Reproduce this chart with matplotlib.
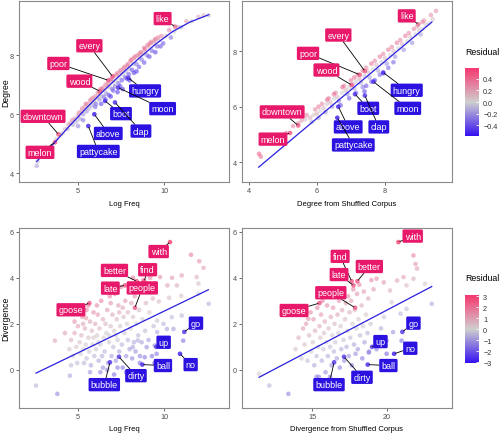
import numpy as np
import matplotlib
matplotlib.use('Agg')
import matplotlib.pyplot as plt
from matplotlib.colors import LinearSegmentedColormap, Normalize
from matplotlib.cm import ScalarMappable

plt.rcParams['font.family'] = ['Liberation Sans', 'DejaVu Sans']

# ---- top row: degree ----
# unlabelled points (log freq, degree, residual)
tl_pts = np.array([
    (2.6, 4.25, -0.15), (2.65, 4.4, -0.05), (3.75, 5.15, 0.1), (3.95, 5.3, 0.15), (4.1, 5.35, 0.05),
    (4.25, 5.5, 0.1), (4.4, 5.5, -0.1), (4.55, 5.7, 0.15), (4.7, 5.65, -0.15), (4.8, 5.85, 0.2),
    (4.9, 5.75, -0.1), (5.0, 5.95, 0.2), (5.1, 5.85, -0.15), (5.2, 6.1, 0.2), (5.3, 6.0, -0.2),
    (5.4, 6.25, 0.2), (5.5, 6.1, -0.2), (5.55, 6.35, 0.25), (5.65, 6.2, -0.15), (5.7, 6.45, 0.25),
    (5.8, 6.3, -0.15), (5.85, 6.55, 0.3), (5.95, 6.4, -0.1), (6.0, 6.6, 0.3), (6.05, 6.35, -0.3),
    (6.1, 6.55, 0.05), (6.2, 6.75, 0.3), (6.25, 6.5, -0.2), (6.3, 6.85, 0.35), (6.35, 6.6, -0.05),
    (6.45, 6.9, 0.3), (6.5, 6.6, -0.3), (6.55, 6.8, 0.0), (6.6, 7.0, 0.3), (6.65, 6.7, -0.2),
    (6.75, 7.05, 0.3), (6.8, 6.65, -0.4), (6.85, 6.9, -0.05), (6.9, 7.15, 0.35), (7.0, 6.85, -0.3),
    (7.05, 7.1, 0.05), (7.1, 7.3, 0.35), (7.15, 6.95, -0.3), (7.2, 7.15, 0.0), (7.3, 7.4, 0.3),
    (7.35, 7.05, -0.35), (7.4, 7.25, -0.05), (7.5, 7.5, 0.3), (7.55, 7.15, -0.4), (7.6, 7.35, -0.05),
    (7.7, 7.6, 0.35), (7.75, 7.25, -0.4), (7.8, 7.45, -0.1), (7.9, 7.7, 0.35), (7.95, 7.35, -0.4),
    (8.0, 7.55, -0.1), (8.1, 7.85, 0.4), (8.15, 7.5, -0.4), (8.2, 7.7, -0.05), (8.3, 7.95, 0.35),
    (8.4, 7.7, -0.3), (8.5, 7.95, 0.1), (8.6, 8.05, 0.3), (8.7, 7.85, -0.3), (8.8, 8.1, 0.15),
    (8.9, 8.2, 0.35), (9.0, 8.0, -0.3), (9.1, 8.3, 0.15), (9.2, 8.4, 0.35), (9.3, 8.15, -0.35),
    (9.4, 8.4, 0.1), (9.5, 8.55, 0.35), (9.6, 8.3, -0.35), (9.7, 8.5, 0.05), (9.85, 8.65, 0.3),
    (9.95, 8.4, -0.4), (10.1, 8.65, 0.05), (10.3, 8.85, 0.3), (10.4, 8.6, -0.3), (10.6, 8.8, 0.0),
    (10.8, 8.95, 0.2), (11.0, 8.95, -0.1), (11.3, 9.15, 0.2), (11.6, 9.15, 0.0), (12.0, 9.3, 0.15),
    (12.3, 9.35, 0.1), (12.6, 9.35, -0.05), (6.9, 6.6, -0.5), (7.3, 6.75, -0.5), (7.6, 6.85, -0.5),
    (8.0, 7.15, -0.5), (6.35, 6.35, -0.45), (8.4, 7.45, -0.5),
    (4.45, 5.65, 0.2), (4.65, 5.8, 0.25), (5.05, 6.05, 0.3), (5.25, 6.2, 0.3), (5.45, 6.35, 0.35),
    (5.6, 6.25, 0.0), (5.75, 6.5, 0.3), (5.9, 6.45, 0.05), (6.15, 6.7, 0.25), (6.4, 6.85, 0.3),
    (6.7, 6.95, 0.2), (6.95, 7.2, 0.35), (7.25, 7.35, 0.3), (7.45, 7.45, 0.25), (7.65, 7.55, 0.3),
    (7.85, 7.65, 0.3), (8.05, 7.8, 0.35), (8.25, 7.9, 0.3), (8.45, 8.0, 0.3), (8.65, 8.1, 0.35),
    (8.85, 8.25, 0.4), (9.05, 8.35, 0.35), (9.25, 8.45, 0.35), (9.45, 8.5, 0.3), (9.65, 8.6, 0.3),
    (6.0, 6.25, -0.35), (6.6, 6.5, -0.4), (7.05, 6.8, -0.35), (7.45, 6.95, -0.45), (7.85, 7.2, -0.45),
    (8.25, 7.4, -0.45), (8.55, 7.6, -0.4), (8.85, 7.75, -0.4), (9.15, 7.95, -0.45), (9.5, 8.1, -0.45),
    (9.8, 8.3, -0.4), (5.3, 5.8, -0.3), (5.0, 5.6, -0.25),
])

# unlabelled points (degree from shuffled corpus, degree, residual)
tr_pts = np.array([
    (4.3, 4.3, 0.45), (4.35, 4.2, 0.4), (5.1, 5.05, 0.3), (5.3, 5.3, 0.3), (5.45, 5.4, 0.3),
    (5.55, 5.5, 0.2), (5.7, 5.7, 0.3), (5.8, 5.6, 0.15), (5.85, 5.45, -0.1), (5.95, 5.9, 0.3),
    (6.0, 5.75, 0.15), (6.05, 5.6, -0.15), (6.15, 6.1, 0.3), (6.2, 5.95, 0.1), (6.25, 5.8, -0.2),
    (6.35, 6.3, 0.35), (6.4, 6.15, 0.1), (6.45, 6.0, -0.2), (6.55, 6.5, 0.3), (6.6, 6.35, 0.1),
    (6.65, 6.2, -0.25), (6.7, 6.05, -0.4), (6.8, 6.75, 0.35), (6.85, 6.6, 0.1), (6.9, 6.45, -0.2),
    (6.95, 6.3, -0.4), (7.0, 6.95, 0.35), (7.05, 6.8, 0.15), (7.1, 6.65, -0.1), (7.15, 6.5, -0.3),
    (7.2, 7.15, 0.35), (7.25, 7.0, 0.15), (7.3, 6.85, -0.1), (7.35, 6.7, -0.3), (7.4, 6.55, -0.45),
    (7.45, 7.4, 0.3), (7.5, 7.25, 0.1), (7.55, 7.05, -0.15), (7.6, 6.9, -0.35), (7.7, 7.65, 0.3),
    (7.75, 7.5, 0.1), (7.8, 7.3, -0.15), (7.85, 7.15, -0.35), (7.95, 7.9, 0.3), (8.0, 7.75, 0.1),
    (8.05, 7.55, -0.2), (8.1, 7.4, -0.35), (8.2, 8.15, 0.3), (8.25, 8.0, 0.1), (8.3, 7.8, -0.2),
    (8.45, 8.4, 0.3), (8.5, 8.25, 0.1), (8.55, 8.05, -0.2), (8.7, 8.65, 0.3), (8.75, 8.5, 0.05),
    (8.8, 8.3, -0.2), (8.95, 8.9, 0.25), (9.0, 8.75, 0.05), (9.05, 8.6, -0.15), (9.15, 9.1, 0.25),
    (9.2, 8.95, 0.05), (9.35, 9.3, 0.25), (9.4, 9.15, 0.05), (9.5, 9.45, 0.25),
    (5.65, 5.55, 0.1), (5.9, 5.7, 0.05), (6.1, 5.85, 0.0), (6.3, 6.1, 0.05), (6.5, 6.3, 0.0),
    (6.75, 6.5, 0.0), (6.95, 6.7, 0.0), (7.15, 6.9, 0.0), (7.4, 7.1, -0.05), (7.65, 7.35, 0.0),
    (7.9, 7.6, 0.0), (8.15, 7.85, 0.0), (8.4, 8.1, 0.0), (8.65, 8.35, 0.0), (8.9, 8.6, 0.0),
    (9.1, 8.8, 0.0), (9.3, 9.0, 0.0), (6.05, 6.0, 0.35), (6.3, 6.25, 0.4), (6.5, 6.45, 0.4),
    (6.75, 6.7, 0.4), (7.1, 7.05, 0.4), (7.35, 7.3, 0.35), (7.6, 7.55, 0.4), (7.85, 7.8, 0.35),
    (8.1, 8.05, 0.35), (8.35, 8.3, 0.35), (8.6, 8.55, 0.35), (8.85, 8.8, 0.3), (9.1, 9.05, 0.3),
    (7.45, 6.75, -0.4), (7.7, 6.95, -0.45), (7.95, 7.2, -0.45), (8.25, 7.6, -0.35),
])

TOP_WORDS = ['like', 'every', 'poor', 'wood', 'downtown', 'melon',
             'hungry', 'moon', 'boot', 'clap', 'above', 'pattycake']
top_degree = [8.97, 7.28, 7.15, 6.78, 5.32, 5.05, 7.23, 6.9, 6.45, 6.4, 6.0, 5.6]
top_logfreq = [10.64, 7.01, 6.76, 6.28, 3.86, 3.66, 7.93, 7.34, 6.57, 7.15, 5.95, 5.6]
top_shuffled = [8.98, 7.41, 7.26, 7.02, 5.45, 5.21, 7.95, 7.66, 7.12, 7.41, 6.63, 6.6]
top_resid = [0.35, 0.45, 0.45, 0.45, 0.45, 0.5, -0.5, -0.5, -0.5, -0.5, -0.55, -0.55]

tl_fit_x = [2.6, 3.5, 4.5, 5.5, 6.5, 7.5, 8.5, 9.5, 10.5, 11.5, 12.6]
tl_fit_y = [4.4, 4.95, 5.6, 6.22, 6.8, 7.35, 7.87, 8.37, 8.8, 9.12, 9.37]
tr_line_x = [4.29, 9.38]
tr_line_y = [3.82, 9.05]

# ---- bottom row: divergence ----
bl_pts = np.array([
    (2.56, -0.68), (3.8, -1.04), (3.66, 1.27), (4.24, 1.6), (4.53, -0.25), (5.47, 2.25),
    (4.5, 0.9), (4.6, 1.3), (4.7, 0.6), (4.8, 1.6), (4.9, 1.0), (4.95, 0.3), (5.0, 1.9), (4.6, 0.2),
    (4.8, 2.1), (5.1, 1.2), (5.15, 0.7), (5.2, 1.5), (5.25, 2.3), (5.3, 0.9), (5.35, 0.3), (5.4, 1.8),
    (5.45, 1.1), (5.5, 2.6), (5.5, 0.5), (5.3, 2.0), (5.6, 1.4), (5.65, 0.8), (5.7, 2.1), (5.75, 0.2),
    (5.8, 1.7), (5.85, 1.1), (5.9, 2.5), (5.95, 0.6), (5.6, 2.8), (5.7, -0.1), (5.9, 1.4), (6.0, 2.0),
    (6.05, 0.9), (6.1, 1.5), (6.15, 2.4), (6.2, 0.4), (6.25, 1.8), (6.3, 1.1), (6.35, 3.0), (6.4, 0.6),
    (6.45, 2.2), (6.5, 1.4), (6.1, 2.8), (6.3, -0.1), (6.45, 0.1), (6.2, 1.2), (6.55, 0.8), (6.6, 2.0),
    (6.65, 1.6), (6.7, 2.6), (6.75, 0.3), (6.8, 1.2), (6.85, 3.2), (6.9, 1.9), (6.95, 0.6), (7.0, 2.4),
    (6.6, 3.5), (6.7, 0.0), (6.8, 1.5), (6.9, 2.9), (7.05, 1.0), (7.1, 1.7), (7.15, 3.3), (7.2, 0.4),
    (7.25, 2.2), (7.3, 1.3), (7.35, 2.8), (7.4, 0.8), (7.45, 1.9), (7.5, 3.6), (7.1, -0.2), (7.3, 0.1),
    (7.2, 1.5), (7.4, 2.5), (7.55, 1.1), (7.6, 0.1), (7.65, 2.3), (7.7, 1.6), (7.75, 3.0), (7.8, 0.6),
    (7.85, 2.0), (7.9, 1.3), (7.95, 3.4), (8.0, 0.9), (7.6, 2.7), (7.8, -0.1), (7.9, 2.5), (8.05, 1.8),
    (8.1, 2.9), (8.15, 0.5), (8.2, 2.3), (8.25, 1.2), (8.3, 3.2), (8.35, 0.8), (8.4, 2.0), (8.45, 3.7),
    (8.5, 1.5), (8.2, 4.0), (8.55, 2.6), (8.6, 0.6), (8.65, 3.4), (8.7, 1.2), (8.75, 2.2), (8.8, 3.9),
    (8.9, 1.7), (8.95, 2.9), (8.6, 0.3), (9.05, 3.6), (9.1, 1.3), (9.15, 2.5), (9.2, 4.0), (9.3, 0.6),
    (9.35, 3.1), (9.4, 1.9), (9.45, 0.3), (11.57, 5.0), (12.05, 4.72), (12.3, 4.43), (11.9, 4.03),
    (12.0, 3.75), (12.6, 2.87), (12.0, 3.3), (11.03, 4.1), (10.75, 3.67), (10.47, 4.0), (9.77, 4.03),
    (10.2, 3.67), (11.0, 3.22), (10.3, 3.13), (9.7, 2.97), (11.03, 2.36), (10.45, 2.29), (9.97, 2.0),
    (9.6, 2.14), (10.55, 1.78), (11.12, 1.27), (10.17, 1.78), (9.6, 1.64), (8.99, 0.99), (9.57, 0.7),
    (8.88, 0.55), (9.46, 1.06), (8.19, 0.99), (8.48, 1.28),
])

br_pts = np.array([
    (11.47, -0.17), (12.15, -0.68), (13.42, -1.04), (14.75, 2.22), (15.3, -0.3),
    (13.9, 0.9), (14.1, 1.4), (14.3, 0.5), (14.4, 1.8), (14.5, 1.1), (14.6, 2.0), (14.7, 0.4),
    (14.8, 1.5), (14.9, 2.5), (14.95, 0.8), (15.05, 1.2), (15.1, 2.2), (15.15, 0.2), (15.2, 1.7),
    (15.3, 0.6), (15.35, 2.7), (15.4, 1.0), (15.45, -0.3), (15.5, 1.9), (15.55, 1.4), (15.6, 2.4),
    (15.65, 0.4), (15.7, 3.0), (15.75, 0.9), (15.8, 1.6), (15.85, 2.1), (15.9, -0.1), (15.95, 1.2),
    (16.0, 2.8), (16.05, 0.6), (16.1, 1.8), (16.15, 3.2), (16.2, 1.0), (16.25, 2.3), (16.3, 0.2),
    (16.35, 1.5), (16.4, 2.7), (16.45, 0.8), (16.5, 2.0), (16.2, -0.3), (16.55, 1.2), (16.6, 3.3),
    (16.65, 0.5), (16.7, 2.4), (16.75, 1.6), (16.8, 3.0), (16.85, 0.1), (16.9, 1.9), (16.95, 0.9),
    (17.0, 2.6), (17.05, 3.5), (17.1, 1.3), (17.15, 0.4), (17.2, 2.2), (17.25, 2.9), (17.3, 1.0),
    (17.35, 1.7), (17.4, 3.2), (17.45, 0.6), (17.5, 2.5), (17.55, 1.4), (17.6, 3.0), (17.65, 0.2),
    (17.7, 2.0), (17.75, 3.5), (17.8, 1.1), (17.85, 2.6), (17.9, 0.7), (17.95, 1.8), (18.0, 3.3),
    (18.05, 0.9), (18.1, 2.2), (18.15, 3.7), (18.2, 1.5), (18.3, 2.8), (18.35, 0.5), (18.4, 1.9),
    (18.45, 3.4), (18.5, 1.2), (18.6, 2.4), (18.7, 1.6), (18.75, 3.1), (18.8, 0.8), (18.9, 2.0),
    (18.95, 3.9), (21.76, 4.97), (21.9, 4.6), (22.0, 4.4), (22.53, 3.74), (22.98, 2.87),
    (21.76, 3.96), (21.3, 3.67), (21.1, 4.03), (20.67, 3.88), (20.2, 3.45), (19.78, 3.8),
    (19.3, 3.96), (19.1, 3.5), (18.9, 4.3), (20.3, 2.94), (20.9, 2.44), (21.3, 2.65), (19.8, 2.3),
    (19.6, 1.8), (20.4, 1.64), (20.97, 1.27), (19.97, 1.27), (19.3, 0.9), (18.78, 0.75), (19.97, 0.7),
])

BOT_WORDS = ['with', 'better', 'find', 'late', 'people', 'goose',
             'go', 'up', 'ball', 'no', 'dirty', 'bubble']
bot_div = [5.55, 3.85, 3.85, 3.67, 2.7, 2.9, 1.65, 1.0, 0.23, 0.7, 0.57, 0.33]
bot_logfreq = [10.35, 8.41, 8.85, 7.73, 8.31, 5.66, 11.18, 9.55, 8.74, 10.93, 7.38, 6.86]
bot_shuffled = [20.76, 18.02, 17.64, 17.76, 17.87, 15.49, 21.02, 19.0, 18.71, 20.47, 17.13, 16.47]
bot_resid = [3.0, 2.5, 2.5, 2.5, 2.5, 2.6, -2.6, -2.5, -2.8, -3.0, -2.6, -2.6]

bl_line_x = [2.56, 12.58]
bl_line_y = [-0.14, 3.48]
br_line_x = [11.47, 22.98]
br_line_y = [-0.32, 3.62]

# label box centres (layout only)
TL_LABEL_POS = [(9.92, 9.24), (5.66, 8.32), (3.86, 7.72), (5.08, 7.12), (2.97, 5.93), (2.79, 4.71),
                (8.9, 6.79), (9.92, 6.19), (7.5, 6.02), (8.66, 5.43), (6.76, 5.35), (6.18, 4.74)]
TR_LABEL_POS = [(8.64, 9.27), (6.63, 8.58), (5.74, 7.92), (6.28, 7.32), (4.98, 5.81), (4.71, 4.83),
                (8.64, 6.59), (8.67, 5.94), (7.51, 5.94), (7.82, 5.27), (6.92, 5.27), (7.07, 4.62)]
BL_LABEL_POS = [(9.69, 5.14), (7.12, 4.32), (9.05, 4.35), (6.88, 3.55), (8.74, 3.56), (4.59, 2.61),
                (11.86, 2.03), (9.98, 1.2), (9.94, 0.19), (11.55, 0.23), (8.37, -0.25), (6.53, -0.64)]
BR_LABEL_POS = [(21.71, 5.81), (18.82, 4.49), (16.87, 4.93), (16.8, 4.14), (16.25, 3.35), (13.8, 2.58),
                (21.76, 2.03), (19.56, 1.23), (20.09, 0.19), (21.55, 0.94), (18.33, -0.32), (16.13, -0.64)]

PINK = '#E8196B'
BLUE = '#2B12E0'
LINE_BLUE = '#2A1FE0'
CMAP = LinearSegmentedColormap.from_list('resid', ['#3510F0', '#CFCFCF', '#F5386F'])
TOP_NORM = Normalize(-0.58, 0.58)
BOT_NORM = Normalize(-3.1, 3.1)


def line_at(x, lx, ly):
    slope = (ly[1] - ly[0]) / (lx[1] - lx[0])
    return ly[0] + slope * (np.asarray(x) - lx[0])


def style_axes(ax, xlim, ylim, xticks, yticks, xlabel, ylabel=None):
    ax.set_xlim(*xlim)
    ax.set_ylim(*ylim)
    ax.set_xticks(xticks)
    ax.set_yticks(yticks)
    for s in ax.spines.values():
        s.set_color('#8a8a8a')
        s.set_linewidth(0.8)
    ax.tick_params(length=2, width=0.6, color='#555555', labelsize=5.2,
                   labelcolor='#4d4d4d', pad=1.5)
    ax.set_xlabel(xlabel, fontsize=5.5, labelpad=4)
    if ylabel:
        ax.set_ylabel(ylabel, fontsize=6.2)
        ax.yaxis.set_label_coords(-0.042, 0.5)


def draw_panel(ax, px, py, pr, norm, lx, ly, wx, wy, wr, words, label_pos):
    ax.scatter(px, py, c=pr, cmap=CMAP, norm=norm, s=11, alpha=0.55, linewidths=0, zorder=2)
    ax.scatter(wx, wy, c=wr, cmap=CMAP, norm=norm, s=11, alpha=0.8, linewidths=0, zorder=2)
    ax.plot(lx, ly, color=LINE_BLUE, lw=0.9, zorder=3)
    for w, x, y, r, pos in zip(words, wx, wy, wr, label_pos):
        ax.annotate(w, xy=(x, y), xytext=pos, ha='center', va='center', color='white',
                    fontsize=6.5, zorder=5,
                    bbox=dict(boxstyle='round,pad=0.24,rounding_size=0.15',
                              fc=PINK if r > 0 else BLUE, ec='none'),
                    arrowprops=dict(arrowstyle='-', color='black', lw=0.6,
                                    shrinkA=0, shrinkB=1))


def add_colorbar(fig, rect, norm, ticks, title_y):
    cax = fig.add_axes(rect)
    cb = fig.colorbar(ScalarMappable(norm=norm, cmap=CMAP), cax=cax)
    cb.outline.set_visible(False)
    cb.set_ticks(ticks)
    cax.tick_params(direction='in', color='white', length=2.5, width=0.6,
                    labelsize=5.2, labelcolor='#333333', pad=3)
    fig.text(0.93, title_y, 'Residual', fontsize=6.3, ha='left', va='center')


if __name__ == '__main__':
    fig = plt.figure(figsize=(5, 4.35), dpi=100)

    ax_tl = fig.add_axes([0.038, 0.579, 0.42, 0.416])
    ax_tr = fig.add_axes([0.484, 0.579, 0.42, 0.416])
    ax_bl = fig.add_axes([0.038, 0.06, 0.42, 0.414])
    ax_br = fig.add_axes([0.484, 0.06, 0.42, 0.414])

    draw_panel(ax_tl, tl_pts[:, 0], tl_pts[:, 1], tl_pts[:, 2], TOP_NORM, tl_fit_x, tl_fit_y,
               top_logfreq, top_degree, top_resid, TOP_WORDS, TL_LABEL_POS)
    draw_panel(ax_tr, tr_pts[:, 0], tr_pts[:, 1], tr_pts[:, 2], TOP_NORM, tr_line_x, tr_line_y,
               top_shuffled, top_degree, top_resid, TOP_WORDS, TR_LABEL_POS)

    bl_r = bl_pts[:, 1] - line_at(bl_pts[:, 0], bl_line_x, bl_line_y)
    br_r = br_pts[:, 1] - line_at(br_pts[:, 0], br_line_x, br_line_y)
    draw_panel(ax_bl, bl_pts[:, 0], bl_pts[:, 1], bl_r, BOT_NORM, bl_line_x, bl_line_y,
               bot_logfreq, bot_div, bot_resid, BOT_WORDS, BL_LABEL_POS)
    draw_panel(ax_br, br_pts[:, 0], br_pts[:, 1], br_r, BOT_NORM, br_line_x, br_line_y,
               bot_shuffled, bot_div, bot_resid, BOT_WORDS, BR_LABEL_POS)

    style_axes(ax_tl, (1.57, 13.78), (3.7, 9.83), [5, 10], [4, 6, 8], 'Log Freq', 'Degree')
    style_axes(ax_tr, (3.8, 9.97), (3.28, 9.8), [4, 6, 8], [4, 6, 8], 'Degree from Shuffled Corpus')
    style_axes(ax_bl, (1.57, 13.78), (-1.65, 6.17), [5, 10], [0, 2, 4, 6], 'Log Freq', 'Divergence')
    style_axes(ax_br, (10.33, 24.33), (-1.65, 6.17), [15, 20], [0, 2, 4, 6],
               'Divergence from Shuffled Corpus')

    add_colorbar(fig, [0.93, 0.685, 0.028, 0.156], TOP_NORM, [-0.4, -0.2, 0.0, 0.2, 0.4], 0.88)
    add_colorbar(fig, [0.93, 0.163, 0.028, 0.156], BOT_NORM, [-3, -2, -1, 0, 1, 2, 3], 0.36)

    fig.savefig('out.png', dpi=100, facecolor='white')
